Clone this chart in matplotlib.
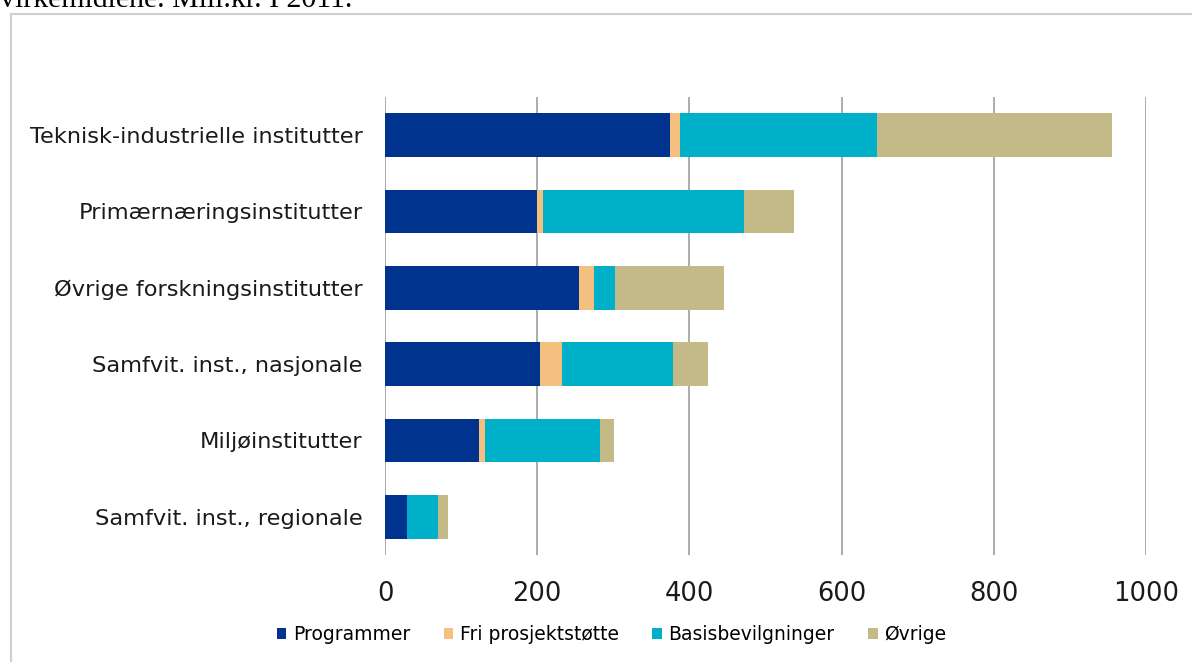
import numpy as np
import matplotlib
matplotlib.use("Agg")
import matplotlib.pyplot as plt
from matplotlib.patches import Rectangle

categories = ["Teknisk-industrielle institutter",
              "Primærnæringsinstitutter",
              "Øvrige forskningsinstitutter",
              "Samfvit. inst., nasjonale",
              "Miljøinstitutter",
              "Samfvit. inst., regionale"]
programmer = [375, 200, 255, 204, 123, 29]
fri = [12, 8, 20, 29, 8, 0]
basis = [260, 264, 27, 145, 151, 41]
ovrige = [308, 66, 144, 47, 19, 13]
series_names = ["Programmer", "Fri prosjektstøtte", "Basisbevilgninger", "Øvrige"]
colors = ["#00338D", "#F5BF7F", "#00AFC8", "#C4BA87"]
xticks = [0, 200, 400, 600, 800, 1000]

plt.rcParams['font.family'] = ['DejaVu Sans']
fig = plt.figure(figsize=(11.92, 6.62), dpi=100)
ax = fig.add_axes([0.323, 0.1616, 0.6384, 0.692])

y = np.arange(len(categories))
left = np.zeros(len(categories))
for vals, name, c in zip([programmer, fri, basis, ovrige], series_names, colors):
    ax.barh(y, vals, left=left, height=0.57, color=c, label=name, zorder=3)
    left += np.array(vals)

ax.set_xlim(0, 1000)
ax.set_ylim(5.5, -0.5)
ax.set_xticks(xticks)
ax.set_yticks(y)
ax.set_yticklabels(categories, fontsize=16.2, color="#1a1a1a")
ax.tick_params(axis="x", labelsize=18.5, length=0, pad=19, labelcolor="#1a1a1a")
ax.tick_params(axis="y", length=0, pad=16)
ax.grid(axis="x", color="#A6A6A6", linewidth=1.3, zorder=0)
for s in ax.spines.values():
    s.set_visible(False)

fig.legend(loc="center", bbox_to_anchor=(0.513, 0.041), ncol=4, frameon=False,
           fontsize=13.5, handlelength=0.5, handleheight=0.5, handletextpad=0.35,
           columnspacing=1.8)

# outer frame (open to the right/bottom like the cropped source)
fig.patches.append(Rectangle((11 / 1192, -0.01), 1.0, 1 - 14 / 662 + 0.01,
                             transform=fig.transFigure, fill=False,
                             edgecolor="#CFCFCF", linewidth=1.5))

fig.text(0.0, 1 - 7 / 662, "virkemidlene. Mill.kr. I 2011.", family="Liberation Serif",
         fontsize=21.5, va="baseline", ha="left")

fig.savefig("out.png", dpi=100)
